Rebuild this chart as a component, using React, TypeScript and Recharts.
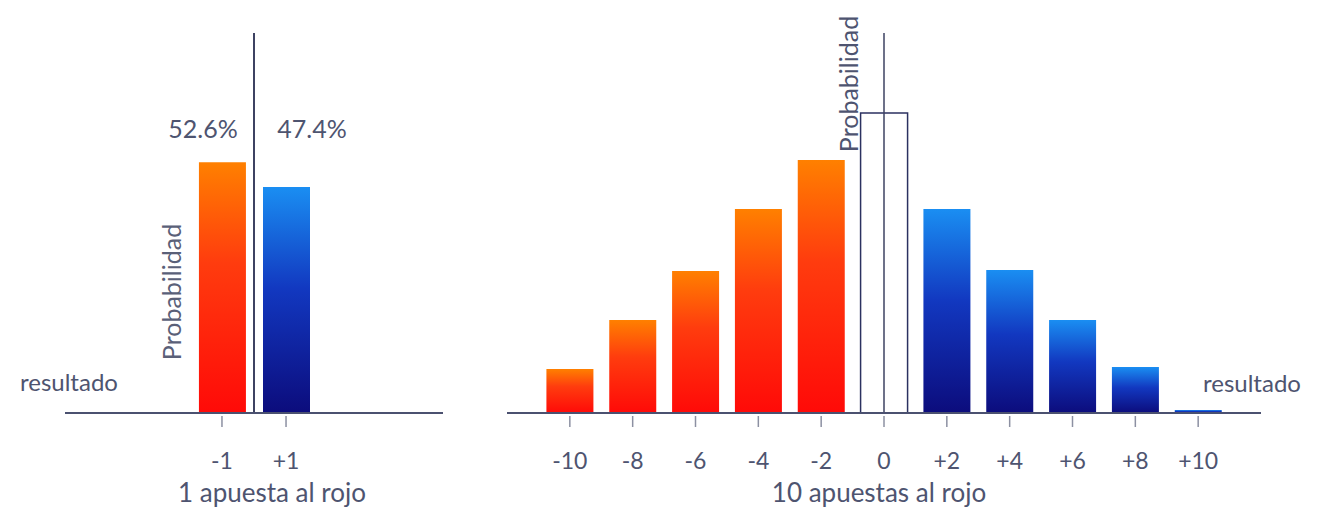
import { BarChart, Bar, XAxis, YAxis, ReferenceLine, Cell } from "recharts";

// 1 apuesta al rojo
const oneBetOutcomes = [-1, 1];
const oneBetProb = [52.6, 47.4];
const oneBetPctLabels = ["52.6%", "47.4%"];

// 10 apuestas al rojo (relative heights)
const tenBetOutcomes = [-10, -8, -6, -4, -2, 0, 2, 4, 6, 8, 10];
const tenBetProb = [4.4, 9.3, 14.2, 20.4, 25.3, 30.0, 20.4, 14.3, 9.3, 4.6, 0.3];

const oneBetData = oneBetOutcomes.map((x, i) => ({ x, p: oneBetProb[i] }));
const tenBetData = tenBetOutcomes.map((x, i) => ({ x, p: tenBetProb[i] }));

const FONT = "Lato, 'Open Sans', sans-serif";
const TEXT = "#4e5470";
const AXIS = "#4b5170";

const fmt = (v: number) => (v > 0 ? `+${v}` : `${v}`);

const OutcomeTick = (props: any) => {
  const { x, y, payload } = props;
  return (
    <g>
      <line x1={x} x2={x} y1={y + 3} y2={y + 14} stroke="#8c90a2" strokeWidth={1.5} />
      <text x={x} y={y + 56} textAnchor="middle" fill={TEXT} fontSize={23} fontFamily={FONT}>
        {fmt(payload.value)}
      </text>
    </g>
  );
};

const fillFor = (x: number) => (x < 0 ? "url(#rojo)" : x > 0 ? "url(#azul)" : "none");

const Gradients = () => (
  <defs>
    <linearGradient id="rojo" x1="0" y1="0" x2="0" y2="1">
      <stop offset="0%" stopColor="#ff8000" />
      <stop offset="40%" stopColor="#ff3c0e" />
      <stop offset="100%" stopColor="#ff0a08" />
    </linearGradient>
    <linearGradient id="azul" x1="0" y1="0" x2="0" y2="1">
      <stop offset="0%" stopColor="#1a8ef2" />
      <stop offset="45%" stopColor="#1238c0" />
      <stop offset="100%" stopColor="#0c0c7c" />
    </linearGradient>
  </defs>
);

export default function App() {
  return (
    <div
      style={{
        position: "absolute",
        left: 0,
        top: 0,
        width: 1319,
        height: 530,
        background: "#fff",
        overflow: "hidden",
      }}
    >
      <div style={{ position: "absolute", left: 0, top: 0 }}>
        <BarChart width={460} height={530} data={oneBetData} margin={{ top: 33, right: 17, left: 65, bottom: 57 }}>
          <Gradients />
          <XAxis
            type="number"
            dataKey="x"
            domain={[-5.9, 5.9]}
            ticks={oneBetOutcomes}
            interval={0}
            height={60}
            tickSize={0}
            tickMargin={0}
            tick={<OutcomeTick />}
            axisLine={{ stroke: AXIS, strokeWidth: 2 }}
          />
          <YAxis hide domain={[0, 79.7]} />
          <Bar dataKey="p" barSize={47} isAnimationActive={false}>
            {oneBetData.map((d) => (
              <Cell key={d.x} fill={fillFor(d.x)} />
            ))}
          </Bar>
          <ReferenceLine x={0} stroke="#3d4262" strokeWidth={2} />
        </BarChart>
      </div>

      <div style={{ position: "absolute", left: 480, top: 0 }}>
        <BarChart width={839} height={530} data={tenBetData} margin={{ top: 33, right: 58, left: 27, bottom: 57 }}>
          <Gradients />
          <XAxis
            type="number"
            dataKey="x"
            domain={[-12, 12]}
            ticks={tenBetOutcomes}
            interval={0}
            height={60}
            tickSize={0}
            tickMargin={0}
            tick={<OutcomeTick />}
            axisLine={{ stroke: AXIS, strokeWidth: 2 }}
          />
          <YAxis hide domain={[0, 38]} />
          <Bar dataKey="p" barSize={47} isAnimationActive={false}>
            {tenBetData.map((d) => (
              <Cell
                key={d.x}
                fill={fillFor(d.x)}
                stroke={d.x === 0 ? "#2b3160" : "none"}
                strokeWidth={d.x === 0 ? 1.5 : 0}
              />
            ))}
          </Bar>
          <ReferenceLine x={0} stroke="#3d4262" strokeWidth={1.5} />
        </BarChart>
      </div>

      <svg
        width={1319}
        height={530}
        style={{ position: "absolute", left: 0, top: 0, pointerEvents: "none" }}
        fontFamily={FONT}
        fill={TEXT}
      >
        <text x={203} y={138} textAnchor="middle" fontSize={25}>{oneBetPctLabels[0]}</text>
        <text x={312} y={138} textAnchor="middle" fontSize={25}>{oneBetPctLabels[1]}</text>
        <text x={20} y={391} fontSize={24}>resultado</text>
        <text x={1203} y={392} fontSize={24}>resultado</text>
        <text transform="translate(181,292) rotate(-90)" textAnchor="middle" fontSize={25} fill="#5a6078">
          Probabilidad
        </text>
        <text transform="translate(858,84) rotate(-90)" textAnchor="middle" fontSize={25}>
          Probabilidad
        </text>
        <text x={272} y={502} textAnchor="middle" fontSize={26}>1 apuesta al rojo</text>
        <text x={879} y={502} textAnchor="middle" fontSize={26}>10 apuestas al rojo</text>
      </svg>
    </div>
  );
}
